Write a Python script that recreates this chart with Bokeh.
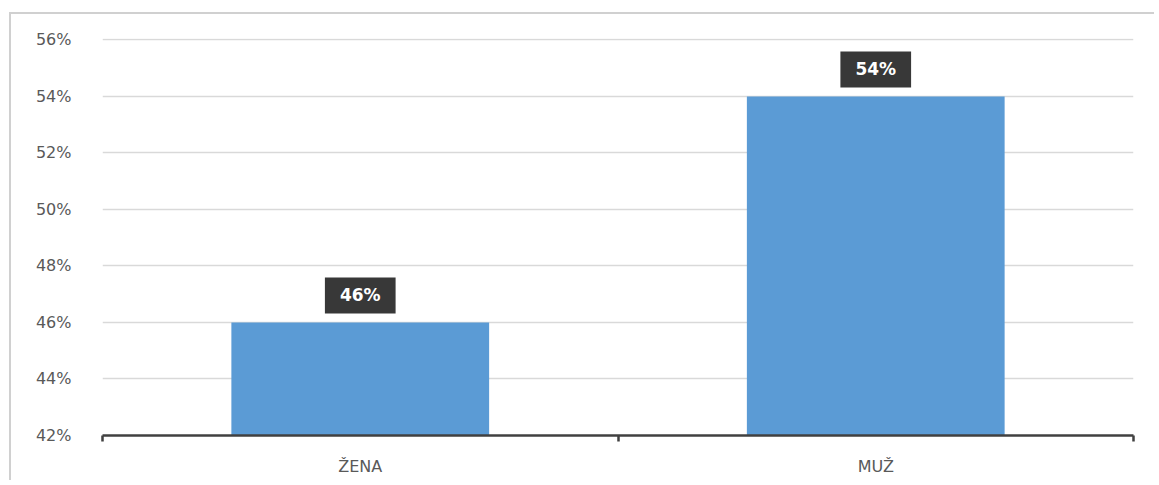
from bokeh.plotting import figure
from bokeh.models import (ColumnDataSource, Range1d, FixedTicker,
                          NumeralTickFormatter)
from bokeh.core.properties import value
from bokeh.embed import file_html
from bokeh.resources import INLINE

categories = ["ŽENA", "MUŽ"]
values = [0.46, 0.54]
labels = ["46%", "54%"]
y_ticks = [0.42, 0.44, 0.46, 0.48, 0.50, 0.52, 0.54, 0.56]

xpos = [i + 0.5 for i in range(len(categories))]
src = ColumnDataSource(dict(x=xpos, top=values, label=labels, cat=categories))

W, H = 1145, 468
p = figure(width=W, height=H, output_backend="svg", toolbar_location=None,
           x_range=Range1d(0, len(categories)), y_range=Range1d(0.42, 0.5605),
           min_border_left=91, min_border_right=23, min_border_top=24,
           min_border_bottom=47)
p.styles = {"border-left": "2px solid #d0d0d0", "border-top": "2px solid #d0d0d0",
            "margin-top": "12px", "margin-left": "9px"}
p.outline_line_color = None
p.background_fill_color = "white"
p.border_fill_color = "white"

p.vbar(x="x", top="top", bottom=0.42, width=0.5, source=src,
       fill_color="#5B9BD5", line_color=None)

FONT = "DejaVu Sans"

# y axis
p.yaxis.ticker = FixedTicker(ticks=y_ticks)
p.yaxis.formatter = NumeralTickFormatter(format="0%")
p.yaxis.axis_line_color = None
p.yaxis.major_tick_line_color = None
p.yaxis.minor_tick_line_color = None
p.yaxis.major_label_standoff = 25
p.yaxis.major_label_text_font = FONT
p.yaxis.major_label_text_font_size = "16px"
p.yaxis.major_label_text_color = "#595959"

p.ygrid.ticker = FixedTicker(ticks=y_ticks)
p.ygrid.grid_line_color = "#d9d9d9"
p.ygrid.grid_line_width = 1.5
p.xgrid.grid_line_color = None

# x axis
p.xaxis.ticker = FixedTicker(ticks=xpos, minor_ticks=list(range(len(categories) + 1)))
p.xaxis.major_label_overrides = {x: c for x, c in zip(xpos, categories)}
p.xaxis.axis_line_color = "#404040"
p.xaxis.axis_line_width = 2.5
p.xaxis.major_tick_line_color = None
p.xaxis.major_tick_out = 0
p.xaxis.major_tick_in = 0
p.xaxis.minor_tick_line_color = "#404040"
p.xaxis.minor_tick_line_width = 2.5
p.xaxis.minor_tick_out = 6
p.xaxis.minor_tick_in = 0
p.xaxis.major_label_standoff = 15
p.xaxis.major_label_text_font = FONT
p.xaxis.major_label_text_font_size = "16px"
p.xaxis.major_label_text_color = "#595959"

p.text(x="x", y="top", text="label", source=src, text_align="center",
       text_baseline="bottom", y_offset=-9, text_color="white",
       text_font=value(FONT), text_font_style="bold", text_font_size="17px",
       background_fill_color="#383838",
       padding=dict(left=15, right=15, top=8, bottom=8))

open("out.html", "w").write(file_html(p, INLINE))
